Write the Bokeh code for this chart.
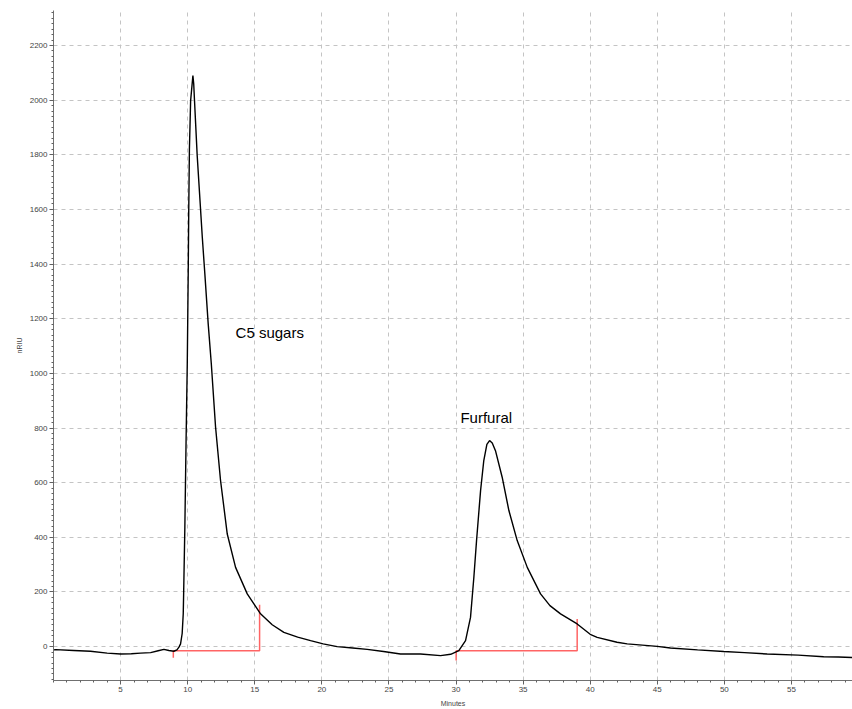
from bokeh.plotting import figure
from bokeh.models import FixedTicker, Range1d, Label
from bokeh.embed import file_html
from bokeh.resources import INLINE

# Chromatogram trace (minutes, nRIU)
time_min = [0.0, 0.16, 1.5, 2.76, 4.0, 5.0, 5.8, 6.49, 7.24, 7.8, 8.23, 8.6, 8.97, 9.2, 9.35,
            9.47, 9.59, 9.67, 9.70, 9.79, 9.88, 9.97, 10.04, 10.08, 10.13, 10.22, 10.39, 10.45,
            10.51, 10.71, 11.09, 11.28, 11.53, 11.76, 12.08, 12.45, 12.95, 13.57, 14.44,
            15.43, 16.3, 17.17, 18.2, 19.16, 20.1, 21.14, 22.3, 23.38, 24.6, 25.86, 27.35, 28.85,
            29.6, 30.21, 30.71, 31.08, 31.33, 31.53, 31.83, 32.07, 32.3, 32.50, 32.7, 32.94,
            33.44, 33.94, 34.56, 35.31, 36.30, 37.0, 37.79, 39.03, 40.0, 40.52, 42.0, 42.76,
            45.0, 45.98, 48.0, 49.96, 51.5, 53.19, 55.5, 57.4, 58.5, 59.6]
signal = [-12, -11, -14, -17, -24, -27, -26, -24, -22, -15, -10, -14, -17, -12, -2,
          10, 48, 120, 194, 437, 750, 1036, 1364, 1600, 1820, 1998, 2090, 2060,
          1998, 1797, 1498, 1364, 1181, 1036, 803, 608, 412, 290, 193,
          120, 80, 52, 35, 22, 10, 0, -5, -10, -18, -27, -27, -33,
          -28, -15, 22, 107, 254, 388, 571, 681, 740, 754, 745, 717,
          620, 498, 388, 290, 193, 150, 120, 83, 45, 34, 16, 10,
          1, -5, -12, -18, -22, -27, -31, -37, -38, -40]

# Integration markers (red)
peak_start = [8.93, 30.01]
peak_end = [15.36, 39.03]
baseline_level = [-15, -15]
start_tick_low = [-41, -51]
end_tick_high = [153, 101]

peak_names = ["C5 sugars", "Furfural"]
label_x = [13.57, 30.33]
label_y = [1150, 840]

x_major = [5, 10, 15, 20, 25, 30, 35, 40, 45, 50, 55]
y_major = [0, 200, 400, 600, 800, 1000, 1200, 1400, 1600, 1800, 2000, 2200]

p = figure(width=852, height=709, output_backend="svg", toolbar_location=None,
           x_range=Range1d(0, 59.55), y_range=Range1d(-124, 2328),
           min_border_left=53, min_border_right=0, min_border_top=10, min_border_bottom=29)
p.outline_line_color = None
p.background_fill_color = "white"
p.border_fill_color = "white"

p.xaxis.ticker = FixedTicker(ticks=x_major, minor_ticks=list(range(0, 60)))
p.yaxis.ticker = FixedTicker(ticks=y_major, minor_ticks=list(range(-120, 2340, 20)))

for ax in (p.xaxis[0], p.yaxis[0]):
    ax.axis_line_color = "#707070"
    ax.major_tick_line_color = "#606060"
    ax.minor_tick_line_color = "#606060"
    ax.major_tick_out = 4
    ax.major_tick_in = 0
    ax.minor_tick_out = 2
    ax.minor_tick_in = 0
    ax.major_label_text_font = "Liberation Sans"
    ax.major_label_text_font_size = "8px"
    ax.major_label_text_color = "#444444"
    ax.axis_label_text_font = "Liberation Sans"
    ax.axis_label_text_font_size = "7px"
    ax.axis_label_text_font_style = "normal"
    ax.axis_label_text_color = "#444444"
    ax.major_label_standoff = 2

p.xaxis.axis_label = "Minutes"
p.yaxis.axis_label = "nRIU"
p.xaxis.axis_label_standoff = 5
p.yaxis.axis_label_standoff = 4

p.xgrid.ticker = FixedTicker(ticks=x_major)
p.ygrid.ticker = FixedTicker(ticks=y_major)
for g in (p.xgrid[0], p.ygrid[0]):
    g.grid_line_color = "#c4c4c4"
    g.grid_line_dash = "4 4"
    g.grid_line_width = 1

# integration markers
xs = []
ys = []
for s, e, b, lo, hi in zip(peak_start, peak_end, baseline_level, start_tick_low, end_tick_high):
    xs.append([s, s, e, e])
    ys.append([lo, b, b, hi])
p.multi_line(xs, ys, line_color="#ff6464", line_width=1.5)

p.line(time_min, signal, line_color="black", line_width=1.4)

for name, lx, ly in zip(peak_names, label_x, label_y):
    p.add_layout(Label(x=lx, y=ly, text=name, text_font="Liberation Sans",
                       text_font_size="15px", text_color="black", text_baseline="alphabetic"))

open("out.html", "w").write(file_html(p, INLINE))
